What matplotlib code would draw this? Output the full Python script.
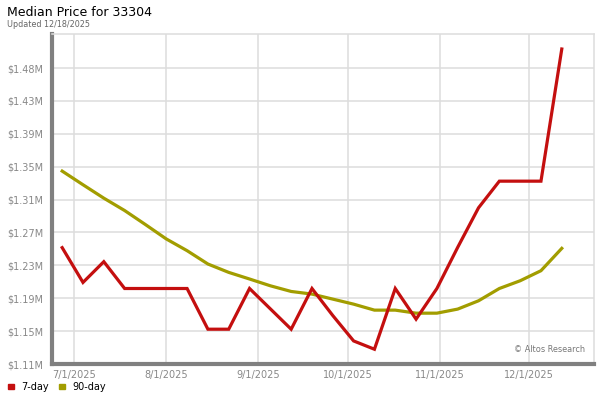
import numpy as np
import pandas as pd
import matplotlib
matplotlib.use('Agg')
import matplotlib.pyplot as plt
import matplotlib.dates as mdates
from matplotlib.patches import Rectangle

# weekly data points (Fridays), values in $M
dates = pd.date_range('2025-06-27', '2025-12-12', freq='7D')
day7 = [1.2558, 1.2122, 1.2382, 1.2046, 1.2046, 1.2046, 1.2046, 1.1536, 1.1536,
        1.2046, 1.1791, 1.1536, 1.2046, 1.1707, 1.1389, 1.1285, 1.2046, 1.1662,
        1.2046, 1.2562, 1.3057, 1.3391, 1.3391, 1.3391, 1.5047]
day90 = [1.3517, 1.3346, 1.3178, 1.3023, 1.2847, 1.2667, 1.2520, 1.2353, 1.2248,
         1.2165, 1.2080, 1.2009, 1.1976, 1.1913, 1.1850, 1.1775, 1.1775, 1.1737,
         1.1737, 1.1788, 1.1892, 1.2046, 1.2143, 1.2269, 1.2549]

ytick_vals = [1.11 + 0.0412 * i for i in range(10)]
ytick_labels = ['$1.11M', '$1.15M', '$1.19M', '$1.23M', '$1.27M',
                '$1.31M', '$1.35M', '$1.39M', '$1.43M', '$1.48M']
xtick_dates = pd.to_datetime(['2025-07-01', '2025-08-01', '2025-09-01',
                              '2025-10-01', '2025-11-01', '2025-12-01'])
xtick_labels = ['7/1/2025', '8/1/2025', '9/1/2025', '10/1/2025', '11/1/2025', '12/1/2025']

red = '#c40f0f'
olive = '#a29d00'
gray = '#808080'

fig = plt.figure(figsize=(6, 4), dpi=100)
ax = fig.add_axes([0.0867, 0.09, 0.9033, 0.825])

ax.plot(dates, day90, color=olive, lw=2.3, solid_joinstyle='miter', zorder=3)
ax.plot(dates, day7, color=red, lw=2.3, solid_joinstyle='miter', zorder=4)

ax.set_ylim(1.11, 1.5235)
ax.set_xlim(pd.Timestamp('2025-06-23 14:00'), pd.Timestamp('2025-12-22 20:00'))
ax.set_yticks(ytick_vals)
ax.set_yticklabels(ytick_labels)
ax.set_xticks(xtick_dates)
ax.set_xticklabels(xtick_labels)
ax.tick_params(axis='both', length=0, colors='#888888', labelsize=7)
ax.tick_params(axis='y', pad=6)
ax.tick_params(axis='x', pad=4)
ax.grid(True, color='#dddddd', lw=1.1, zorder=0)
ax.set_axisbelow(True)

ax.spines['left'].set_color(gray)
ax.spines['left'].set_linewidth(3)
ax.spines['bottom'].set_color(gray)
ax.spines['bottom'].set_linewidth(3)
ax.spines['top'].set_color('#dddddd')
ax.spines['right'].set_color('#dddddd')
ax.spines['top'].set_linewidth(1.1)
ax.spines['right'].set_linewidth(1.1)

ax.text(0.983, 0.03, '\u00a9 Altos Research', transform=ax.transAxes,
        ha='right', va='bottom', fontsize=5.9, color='#777777')

fig.text(0.012, 0.968, 'Median Price for 33304', fontsize=9, color='black',
         ha='left', va='center')
fig.text(0.012, 0.938, 'Updated 12/18/2025', fontsize=5.8, color='#666666',
         ha='left', va='center')

# legend at bottom
fig.patches.append(Rectangle((8 / 600, 1 - 389 / 400), 5.5 / 600, 5.5 / 400,
                             transform=fig.transFigure, color=red))
fig.text(21.5 / 600, 1 - 386.5 / 400, '7-day', fontsize=7, va='center', ha='left')
fig.patches.append(Rectangle((59 / 600, 1 - 389 / 400), 5.5 / 600, 5.5 / 400,
                             transform=fig.transFigure, color=olive))
fig.text(72.5 / 600, 1 - 386.5 / 400, '90-day', fontsize=7, va='center', ha='left')

fig.savefig('out.png', dpi=100)
